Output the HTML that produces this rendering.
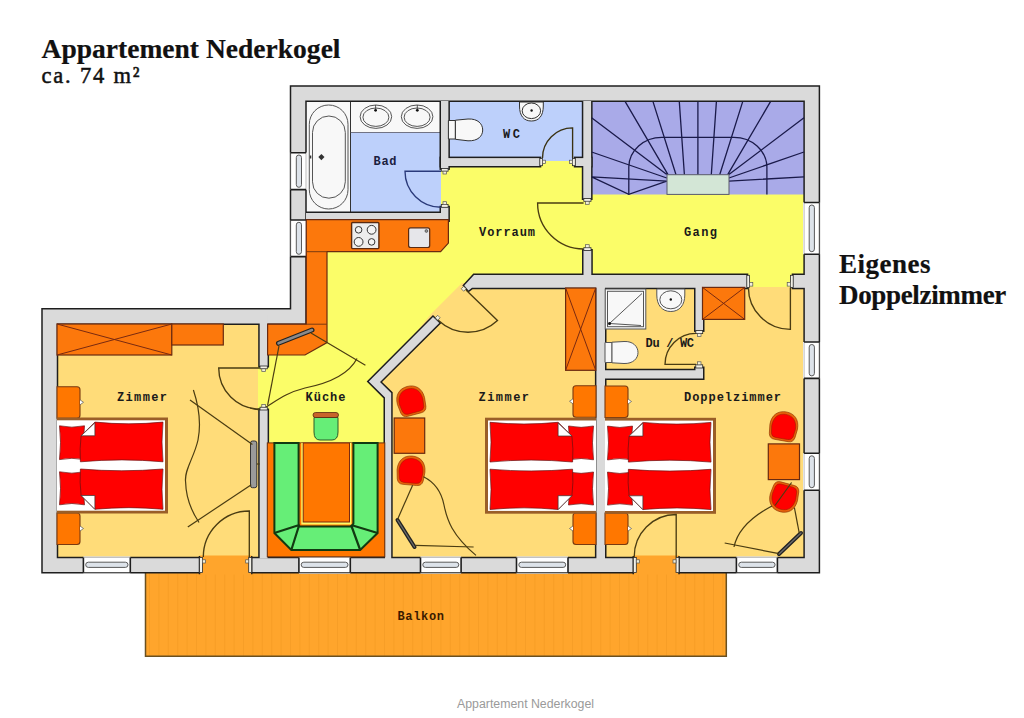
<!DOCTYPE html>
<html><head><meta charset="utf-8">
<style>
html,body{margin:0;padding:0;background:#fff;width:1024px;height:718px;overflow:hidden}
svg{display:block}
.lbl{font-family:"Liberation Mono",monospace;font-weight:bold;font-size:12px;fill:#1a1a1a}
.fur{fill:#FC780C;stroke:#6A2A10;stroke-width:1.2}
.ln{fill:none;stroke:#4a3c12;stroke-width:1.2}
.jb{fill:#F4F0D8;stroke:#555;stroke-width:0.7}
</style></head><body>
<svg width="1024" height="718" viewBox="0 0 1024 718">
<rect width="1024" height="718" fill="#fff"/>
<!-- FLOORS -->
<g id="floors">
  <!-- balcony -->
  <rect x="145.5" y="560" width="580.8" height="96.3" fill="#FFA52C"/>
  <g stroke="#F59C25" stroke-width="1" opacity="0.7">
    <path d="M149.5,573V656M158.9,573V656M168.3,573V656M177.7,573V656M187.1,573V656M196.5,573V656M205.9,573V656M215.3,573V656M224.7,573V656M234.1,573V656M243.5,573V656M252.9,573V656M262.3,573V656M271.7,573V656M281.1,573V656M290.5,573V656M299.9,573V656M309.3,573V656M318.7,573V656M328.1,573V656M337.5,573V656M346.9,573V656M356.3,573V656M365.7,573V656M375.1,573V656M384.5,573V656M393.9,573V656M403.3,573V656M412.7,573V656M422.1,573V656M431.5,573V656M440.9,573V656M450.3,573V656M459.7,573V656M469.1,573V656M478.5,573V656M487.9,573V656M497.3,573V656M506.7,573V656M516.1,573V656M525.5,573V656M534.9,573V656M544.3,573V656M553.7,573V656M563.1,573V656M572.5,573V656M581.9,573V656M591.3,573V656M600.7,573V656M610.1,573V656M619.5,573V656M628.9,573V656M638.3,573V656M647.7,573V656M657.1,573V656M666.5,573V656M675.9,573V656M685.3,573V656M694.7,573V656M704.1,573V656M713.5,573V656M722.9,573V656"/>
  </g>
  <path d="M145.5,573V656.3H726.3V573" fill="none" stroke="#6a5020" stroke-width="1.5"/>
  <!-- yellow region -->
  <polygon points="441,160 591,160 591,194 806,194 806,287 748,287 748,275 474,275 464,286 433,317 380,378 384,395 384,450 267,450 267,324 306,324 306,213 441,213" fill="#FBFD68"/>
  <!-- bad -->
  <rect x="306" y="101" width="44.5" height="112" fill="#F8F8F8"/>
  <rect x="350.5" y="101" width="90.5" height="32" fill="#F8F8F8"/>
  <rect x="350.5" y="132.5" width="90.5" height="80.5" fill="#BDD0FB"/>
  <line x1="350.5" y1="101" x2="350.5" y2="213" stroke="#333" stroke-width="1"/>
  <line x1="350.5" y1="132.5" x2="441" y2="132.5" stroke="#556" stroke-width="0.8"/>
  <!-- wc -->
  <rect x="448" y="101" width="135.5" height="60" fill="#BDD0FB"/>
  <!-- stairs -->
  <rect x="591.5" y="101.5" width="212.5" height="93" fill="#A9AAE8"/>
  <!-- left zimmer -->
  <rect x="57" y="324" width="203" height="236" fill="#FFDC79"/>
  <!-- middle zimmer -->
  <polygon points="462,283 600,283 600,560 388,560 388,395 376,381 431,314" fill="#FFDC79"/>
  <!-- du/wc + doppelzimmer -->
  <rect x="604" y="287" width="200" height="273" fill="#FFDC79"/>
    <!-- kueche lower -->
  <rect x="267" y="440" width="118" height="120" fill="#FBFD68"/>
  <rect x="258" y="365" width="12" height="46" fill="#FBFD68"/>
</g>
<!-- WALLS: stroke pass then fill pass -->
<defs>
<g id="walls">
  <path fill-rule="evenodd" d="M291.25,86.75 H818.65 V571.95 H42.75 V309.55 H291.25 Z M305.25,100.5 V323.55 H56.75 V558.15 H804.85 V100.5 Z"/>
  <rect x="441" y="101" width="7.4" height="67.4"/>
  <polygon points="306,213 441,213 441,207.3 448.4,207.3 448.4,220.4 306,220.4"/>
  <rect x="441" y="158.1" width="98.8" height="7.9"/>
  <rect x="575.3" y="158.1" width="15.8" height="7.9"/>
  <rect x="583.3" y="101" width="7.8" height="97.5"/>
  <rect x="583.5" y="250.5" width="7.8" height="27.5"/>
  <polygon points="474,275 746.8,275 746.8,287.8 472,287.8 468.5,290.5 464.3,285.5"/>
  <rect x="793.2" y="275" width="12.8" height="12.8"/>
  <polygon points="433,317 439.3,323 380,382 391.2,393 391.2,560 385,560 385,397.6 368.8,381.4"/>
  <rect x="596.4" y="285" width="8.6" height="275"/>
  <rect x="695.5" y="285" width="7.5" height="45.4"/>
  <polygon points="604,370.2 695.5,370.2 695.5,368 703,368 703,378.4 604,378.4"/>
  <rect x="259.7" y="315" width="7.9" height="51"/>
  <rect x="259.7" y="410" width="7.9" height="148.5"/>
</g>
</defs>
<use href="#walls" fill="none" stroke="#1E1E1E" stroke-width="3" stroke-linejoin="miter"/>
<use href="#walls" fill="#DADADA" stroke="none"/>
<!-- balcony door openings -->
<rect x="199.5" y="555.5" width="52.2" height="19" fill="#FFA52C"/>
<rect x="633.3" y="555.5" width="45.7" height="19" fill="#FFA52C"/>

<g stroke="#1E1E1E" stroke-width="1.5">
  <path d="M199.5,556V574.3M251.7,556V574.3M633.3,556V574.3M679,556V574.3"/>
</g>
<!-- WINDOWS -->
<g id="windows">
  <g fill="#fff">
    <rect x="289.5" y="152.7" width="17.5" height="36.9"/>
    <rect x="289.5" y="220" width="17.5" height="36.6"/>
    <rect x="803" y="202.5" width="17.5" height="51.7"/>
    <rect x="803" y="342" width="17.5" height="36.4"/>
    <rect x="803" y="453.3" width="17.5" height="36.9"/>
    <rect x="83.4" y="556.4" width="46.9" height="17.3"/>
    <rect x="298.9" y="556.4" width="51.4" height="17.3"/>
    <rect x="420.5" y="556.4" width="40.6" height="17.3"/>
    <rect x="516.5" y="556.4" width="51.5" height="17.3"/>
    <rect x="736.4" y="556.4" width="41" height="17.3"/>
  </g>
  <path d="M290.5,152.7V189.6M290.5,220V256.6M819.4,202.5V254.2M819.4,342V378.4M819.4,453.3V490.2M83.4,572.7H130.3M298.9,572.7H350.3M420.5,572.7H461.1M516.5,572.7H568M736.4,572.7H777.4" stroke="#555" stroke-width="1.2"/>
  <path d="M306,152.7V189.6M306,220V256.6M804.1,202.5V254.2M804.1,342V378.4M804.1,453.3V490.2M83.4,557.4H130.3M298.9,557.4H350.3M420.5,557.4H461.1M516.5,557.4H568M736.4,557.4H777.4" stroke="#aaa" stroke-width="0.8"/>
  <path d="M290.5,152.7H306M290.5,189.6H306M290.5,220H306M290.5,256.6H306M804.1,202.5H819.4M804.1,254.2H819.4M804.1,342H819.4M804.1,378.4H819.4M804.1,453.3H819.4M804.1,490.2H819.4M83.4,557.4V572.7M130.3,557.4V572.7M298.9,557.4V572.7M350.3,557.4V572.7M420.5,557.4V572.7M461.1,557.4V572.7M516.5,557.4V572.7M568,557.4V572.7M736.4,557.4V572.7M777.4,557.4V572.7" stroke="#1E1E1E" stroke-width="1.6"/>
  <g fill="#DDE3EA" stroke="#5a5a5a" stroke-width="1">
    <rect x="296.3" y="155" width="5.2" height="32.3" rx="2.6"/>
    <rect x="296.3" y="222.3" width="5.2" height="32" rx="2.6"/>
    <rect x="809.2" y="205" width="5.2" height="46.7" rx="2.6"/>
    <rect x="809.2" y="344.5" width="5.2" height="31.4" rx="2.6"/>
    <rect x="809.2" y="455.8" width="5.2" height="31.9" rx="2.6"/>
    <rect x="85.7" y="562.2" width="42.3" height="5.2" rx="2.6"/>
    <rect x="301.2" y="562.2" width="46.8" height="5.2" rx="2.6"/>
    <rect x="422.8" y="562.2" width="36" height="5.2" rx="2.6"/>
    <rect x="518.8" y="562.2" width="46.9" height="5.2" rx="2.6"/>
    <rect x="738.7" y="562.2" width="36.4" height="5.2" rx="2.6"/>
  </g>
</g>
<!-- FURNITURE -->
<defs>
  <g id="bed">
    <rect x="0" y="0" width="111" height="96" fill="#9A5E28"/>
    <rect x="0" y="2.8" width="108" height="90.4" fill="#FFFFFF"/>
    <g fill="#FF0000" stroke="#6a1010" stroke-width="0.7">
      <path d="M2.5,8.3Q14.7,11 27.5,8.3Q25.5,25 27.5,42.1Q14.7,39.5 2.5,42.1Q4.5,25 2.5,8.3Z"/>
      <path d="M2.5,54.3Q14.7,57 27.5,54.3Q25.5,71 27.5,87.3Q14.7,84.7 2.5,87.3Q4.5,71 2.5,54.3Z"/>
      <path d="M106,4.6Q72,8 37.9,4.6L24.1,18.3Q22.5,31 23.4,44.3Q65,40.5 106,44.3Q104,24.5 106,4.6Z"/>
      <path d="M106,51.5Q65,55 23.4,51.5Q22.5,65 24.1,78L37.9,91.8Q72,88.5 106,91.8Q104,72 106,51.5Z"/>
    </g>
    <g fill="#FFFFFF" stroke="#333" stroke-width="0.7">
      <path d="M37.9,5.3L24.1,18.3H37.9Z"/>
      <path d="M24.1,78L37.9,91.8V78Z"/>
    </g>
  </g>
  <g id="chair">
    <path d="M-14,0C-14,-10 -8,-15 0,-15C8,-15 14,-10 14,0L13,9Q12,14 7,14L-7,14Q-12,14 -13,9Z" fill="#E8620A" stroke="#8B3000" stroke-width="0.6"/>
    <path d="M-12,1C-12,-8 -7,-12.5 0,-12.5C7,-12.5 12,-8 12,1L11,8.5Q10,12 6,12L-6,12Q-10,12 -11,8.5Z" fill="#FF0000" stroke="#9a1a00" stroke-width="0.5"/>
  </g>
  <g id="stand">
    <path d="M0,0H20Q23,0 23,3V28.5Q23,31.5 20,31.5H0Z" fill="#FF7700" stroke="#7A3A10" stroke-width="1.1"/>
    <path d="M23,13L26.5,15.5L23,18" fill="#fff" stroke="#555" stroke-width="0.7"/>
  </g>
</defs>

<!-- Bad -->
<g fill="#F8F8F8" stroke="#555" stroke-width="1">
  <rect x="309.3" y="105" width="38.7" height="104" rx="19.3"/>
  <rect x="312.5" y="116" width="32.8" height="82.2" rx="16.4"/>
  <ellipse cx="375.9" cy="116.7" rx="15.8" ry="11.7"/>
  <ellipse cx="375.9" cy="117.2" rx="13" ry="9.2"/>
  <ellipse cx="417.1" cy="116.7" rx="15.8" ry="11.7"/>
  <ellipse cx="417.1" cy="117.2" rx="13" ry="9.2"/>
</g>
<path d="M321.4,154L324.5,157.1L321.4,160.2L318.3,157.1Z" fill="#333"/>
<rect x="309.8" y="155.5" width="1.5" height="3" fill="#333"/>
<g fill="#111"><circle cx="375.6" cy="110.3" r="1.4"/><circle cx="417.3" cy="110.3" r="1.4"/></g>
<path d="M375.6,105V109M417.3,105V109" stroke="#333" stroke-width="0.8"/>

<!-- WC -->
<g fill="#F8F8F8" stroke="#333" stroke-width="1">
  <path d="M448.4,120.5H455.4V139H448.4Z"/>
  <path d="M455.4,120.2L468,119C478,118.5 482.7,124 482.7,130C482.7,136 478,141.2 468,140.8L455.4,139.3Z"/>
  <path d="M519.5,102V106C519.5,116 524,121 531.4,121C538.8,121 543.3,116 543.3,106V102Z"/>
  <ellipse cx="531.4" cy="110.8" rx="9.2" ry="7.8"/>
</g>
<circle cx="531.6" cy="110.5" r="1.2" fill="#111"/>

<!-- Du/WC -->
<g fill="#F8F8F8" stroke="#555" stroke-width="1">
  <rect x="605.2" y="289" width="40.6" height="40"/>
  <rect x="607.5" y="291.3" width="36" height="35.4"/>
  <path d="M656.8,289V295C656.8,305 662,311.5 670.8,311.5C679.6,311.5 684.8,305 684.8,295V289Z"/>
  <ellipse cx="670.8" cy="299.8" rx="11" ry="9"/>
  <path d="M605,342.5H612V362.5H605Z"/>
  <path d="M612,342.2L624,341.5C633,341 638,346.5 638,352.5C638,358.5 633,363.8 624,363.5L612,362.8Z"/>
</g>
<path d="M609.5,323.5L642,293.5M609.5,323.5L641,325.5" stroke="#444" stroke-width="0.9"/>
<circle cx="609.5" cy="323.5" r="1.5" fill="#111"/>
<circle cx="670.8" cy="299.5" r="1.2" fill="#111"/>

<!-- Kitchen counter -->
<polygon class="fur" points="306.3,219.7 448.4,219.7 448.4,243.1 440.6,251.7 327,251.7 327,342.6 305,355 267.6,355 267.6,324.2 306.3,324.2"/>
<path d="M306.3,251.7H327M306.3,324.2H327" stroke="#7A3A10" stroke-width="1"/>
<rect x="351.6" y="222.5" width="27.3" height="26.1" fill="#EDEDED" stroke="#5A2A10" stroke-width="1.4" rx="1"/>
<g fill="#F4F4F4" stroke="#333" stroke-width="1">
  <circle cx="358.6" cy="229.8" r="3.3"/><circle cx="371.6" cy="229.8" r="4.4"/>
  <circle cx="358.6" cy="241.9" r="4.4"/><circle cx="371.6" cy="241.9" r="3.3"/>
</g>
<rect x="408.6" y="227.8" width="21.1" height="19.7" rx="2" fill="#E6E6EA" stroke="#5A2A10" stroke-width="1.2"/>
<circle cx="426.4" cy="231" r="1.4" fill="#999" stroke="#333" stroke-width="0.6"/>
<!-- TV on kitchen counter -->
<path d="M278.5,343.3L312,330" stroke="#222" stroke-width="5" stroke-linecap="round"/>
<path d="M278.5,343.3L312,330" stroke="#8a8a8a" stroke-width="2.6" stroke-linecap="round"/>
<g class="ln">
  <path d="M311,333L327,342.6L365.4,365.2"/>
  <path d="M279,346L267.6,405.3"/>
  <path d="M357,358.5C350,372 335,382 305,388C285,393 275,402 263.4,408.7C258,411 253,409 250,408"/>
</g>

<!-- Kueche lower -->
<rect x="267.3" y="442.9" width="117.5" height="113.9" fill="#FF7700" stroke="#6a3010" stroke-width="1"/>
<path d="M274.4,443V533L291.3,550H360.2L377.6,533V443H353.4V523.7L351.1,526.4H299.2L298.6,523.7V443Z" fill="#66EE77" stroke="#123a12" stroke-width="2"/>
<path d="M274.4,533L299.2,525M299.2,525L291.3,550M377.6,533L351.1,525M351.1,525L360.2,550" stroke="#123a12" stroke-width="2.2"/>
<rect x="301.3" y="443" width="50.1" height="81.5" fill="#FFFB66"/>
<rect x="303.2" y="443" width="46.3" height="79" fill="#FF7700" stroke="#7a2a10" stroke-width="1"/>
<path d="M314,417.5H338V432Q338,440 332,440H320Q314,440 314,432Z" fill="#66EE77" stroke="#2a5a2a" stroke-width="1"/>
<rect x="313" y="412.5" width="25.5" height="5" rx="2.5" fill="#C8642A" stroke="#5a2a10" stroke-width="0.8"/>

<!-- Left Zimmer -->
<rect class="fur" x="57" y="324" width="114.8" height="31"/>
<path d="M57,324L171.8,355M57,355L171.8,324" stroke="#7a2a10" stroke-width="1"/>
<rect class="fur" x="171.8" y="324" width="51.5" height="21"/>
<use href="#stand" transform="translate(57,386.8)"/>
<use href="#stand" transform="translate(57,513)"/>
<use href="#bed" transform="translate(57,417.5)"/>
<rect x="250.5" y="441" width="6.3" height="46.7" rx="2" fill="#9a9a9a" stroke="#333" stroke-width="1"/>
<g class="ln">
  <path d="M193.4,390C200,410 201,425 198,440C194,458 184,470 185.6,482C186,500 192,512 199,522.5"/>
  <path d="M190,400L252.4,444.6"/>
  <path d="M251.3,484.7L187.8,527"/>
  <path d="M256.9,464H259.7"/>
</g>

<!-- Middle Zimmer -->
<rect class="fur" x="565.6" y="288" width="30.1" height="82.3"/>
<path d="M565.6,288L595.7,370.3M565.6,370.3L595.7,288" stroke="#7a2a10" stroke-width="1"/>
<use href="#stand" transform="translate(596,385.8) scale(-1,1)"/>
<use href="#stand" transform="translate(596,513) scale(-1,1)"/>
<use href="#bed" transform="translate(596,417.7) scale(-1,1)"/>
<rect class="fur" x="394.2" y="418" width="30.5" height="35.3"/>
<use href="#chair" transform="translate(411,401) rotate(-15)"/>
<use href="#chair" transform="translate(411,471) rotate(5)"/>
<path d="M397.5,520L414.5,547" stroke="#222" stroke-width="4" stroke-linecap="round"/>
<path d="M397.5,520L414.5,547" stroke="#6a6a6a" stroke-width="1.4" stroke-linecap="round"/>
<g class="ln">
  <path d="M412.6,485.2L397.5,519.4"/>
  <path d="M423.5,476.8C436,483 442,495 444,505C447,520 452,535 476,555.4"/>
  <path d="M415.1,545.4L473.6,547"/>
</g>

<!-- Doppelzimmer -->
<rect class="fur" x="702.5" y="287.4" width="42.2" height="32"/>
<path d="M702.5,287.4L744.7,319.4M702.5,319.4L744.7,287.4" stroke="#7a2a10" stroke-width="1"/>
<use href="#stand" transform="translate(605,386)"/>
<use href="#stand" transform="translate(605,513)"/>
<use href="#bed" transform="translate(605,417.8)"/>
<rect class="fur" x="768.3" y="443.9" width="31.2" height="35.7"/>
<use href="#chair" transform="translate(783.7,426.7) rotate(10)"/>
<use href="#chair" transform="translate(783.9,497.2) rotate(195)"/>
<path d="M779,554L801,533" stroke="#222" stroke-width="4" stroke-linecap="round"/>
<path d="M779,554L801,533" stroke="#6a6a6a" stroke-width="1.4" stroke-linecap="round"/>
<g class="ln">
  <path d="M772,506C755,515 738,528 734,547"/>
  <path d="M724.7,543L779,553.6"/>
  <path d="M794.4,507.6L799.3,533.4"/>
  <path d="M775,505.5L791.6,482.5"/>
</g>

<!-- Stairs -->
<g stroke="#1a1a4a" stroke-width="1.3" fill="none">
  <path d="M591.6,117.7L666.8,174.5M625.2,101.6L668,174.7M653,101.6L676,174.7M679.3,101.6L684.4,174.7M697.9,101.6V174.7M591.6,152L666.8,178M591.6,176.8L666.8,181.2M591.6,176.8L628.8,194.4L666.8,181.2"/>
  <path d="M804,117.7L728.9,174.5M770.5,101.6L727.7,174.7M742.7,101.6L719.7,174.7M716.4,101.6L711.3,174.7M804,152L728.9,178M804,176.8L728.9,181.2"/>
  <path d="M628.8,194.4V167A33,30 0 0 1 661.8,137.4H733.9A33,30 0 0 1 766.9,167V194.4"/>
</g>
<rect x="667" y="174.7" width="62" height="19.7" fill="#D3E6D6" stroke="#5a5a6a" stroke-width="1"/>
<!-- DOORS -->
<g id="doors" fill="none" stroke-width="1.35">
  <path d="M441,171.2H405A36,36 0 0 0 441,207.2" stroke="#2A3A7A"/>
  <path d="M572.6,158V127.9A30.1,30.1 0 0 0 542.5,158" stroke="#3a3212"/>
  <path d="M583.6,203H537.6A46,46 0 0 0 583.6,249" stroke="#4a3c12"/>
  <path d="M466,290L497.5,320.5A43,43 0 0 1 438.5,320.5" stroke="#4a3c12"/>
  <path d="M790.4,287.4V329.4A42,42 0 0 1 748.4,287.4" stroke="#4a3c12"/>
  <path d="M696,364.4H665A31,31 0 0 1 696,333.4" stroke="#4a3c12"/>
  <path d="M259.7,368H218.7A41,41 0 0 0 259.7,409" stroke="#4a3c12"/>
  <path d="M249.3,557V511A46,46 0 0 0 203.3,557" stroke="#4a3c12"/>
  <path d="M676.2,557V514.5A42,42 0 0 0 634.2,557" stroke="#4a3c12"/>
</g>
<!-- jambs -->
<g fill="#F2F0E6" stroke="#2a2a2a" stroke-width="0.8">
  <rect x="441.3" y="168.4" width="6.8" height="2.8"/><rect x="441.3" y="204.5" width="6.8" height="2.8"/>
  <rect x="539.8" y="158.4" width="2.8" height="7.3"/><rect x="572.5" y="158.4" width="2.8" height="7.3"/>
  <rect x="583.8" y="198.5" width="7.2" height="2.8"/><rect x="583.8" y="247.7" width="7.2" height="2.8"/>
  <rect x="746.8" y="275.3" width="2.8" height="12.2"/><rect x="790.4" y="275.3" width="2.8" height="12.2"/>
  <rect x="695.8" y="330.4" width="6.9" height="3.2"/><rect x="695.8" y="364.8" width="6.9" height="3.2"/>
  <rect x="260" y="366" width="7.3" height="2.8"/><rect x="260" y="407.2" width="7.3" height="2.8"/>
  <rect x="199.5" y="557.6" width="3" height="15"/><rect x="248.7" y="557.6" width="3" height="15"/>
  <rect x="633.3" y="557.6" width="3" height="15"/><rect x="676" y="557.6" width="3" height="15"/>
</g>
<g class="jb">
  <rect x="443" y="171.2" width="3.4" height="2.8"/><rect x="443" y="201.7" width="3.4" height="2.8"/>
  <rect x="542.6" y="160.2" width="3" height="3.4"/><rect x="569.5" y="160.2" width="3" height="3.4"/>
  <rect x="585.6" y="201.3" width="3.6" height="3"/><rect x="585.6" y="244.7" width="3.6" height="3"/>
  <rect x="749.6" y="282.5" width="3.2" height="3.6"/><rect x="787.2" y="282.5" width="3.2" height="3.6"/>
  <rect x="697.5" y="333.6" width="3.5" height="3"/><rect x="697.5" y="361.8" width="3.5" height="3"/>
  <rect x="261.8" y="368.8" width="3.6" height="2.8"/><rect x="261.8" y="404.4" width="3.6" height="2.8"/>
  <rect x="202.5" y="559.8" width="3" height="3.2"/><rect x="245.7" y="559.8" width="3" height="3.2"/>
  <rect x="636.3" y="559.8" width="3" height="3.2"/><rect x="673" y="559.8" width="3" height="3.2"/>
  <rect x="462" y="287" width="3.5" height="3.5" transform="rotate(45 463.7 288.7)"/>
  <rect x="436" y="316" width="3.5" height="3.5" transform="rotate(45 437.7 317.7)"/>
</g>
<!-- TITLE -->
<text x="41.5" y="58.2" font-family="Liberation Serif" font-weight="bold" font-size="27.5" fill="#111" stroke="#111" stroke-width="0.2" textLength="299" lengthAdjust="spacing">Appartement Nederkogel</text>
<text x="41.5" y="82.8" font-family="Liberation Serif" font-size="22.5" fill="#111" stroke="#111" stroke-width="0.5" textLength="98" lengthAdjust="spacing">ca. 74 m²</text>
<text x="839" y="273" font-family="Liberation Serif" font-weight="bold" font-size="27" fill="#111" stroke="#111" stroke-width="0.2" textLength="91.5" lengthAdjust="spacing">Eigenes</text>
<text x="839" y="303.7" font-family="Liberation Serif" font-weight="bold" font-size="27" fill="#111" stroke="#111" stroke-width="0.2" textLength="167.3" lengthAdjust="spacing">Doppelzimmer</text>
<text x="457" y="708" font-family="Liberation Sans" font-size="12" fill="#9a9a9a" textLength="137" lengthAdjust="spacingAndGlyphs">Appartement Nederkogel</text>

<!-- LABELS -->
<text class="lbl" x="373.5" y="164.8" style="fill:#1a2040" textLength="23">Bad</text>
<text class="lbl" x="503" y="137.9" textLength="17">WC</text>
<text class="lbl" x="479" y="235.6" textLength="56">Vorraum</text>
<text class="lbl" x="684" y="235.6" textLength="33">Gang</text>
<text class="lbl" x="117" y="400.7" textLength="50">Zimmer</text>
<text class="lbl" x="305.5" y="400.7" textLength="40">Küche</text>
<text class="lbl" x="478.5" y="400.6" textLength="50.5">Zimmer</text>
<text class="lbl" x="645.5" y="346.8" textLength="48.5">Du / WC</text>
<text class="lbl" x="684" y="400.6" textLength="97">Doppelzimmer</text>
<text class="lbl" x="397.5" y="619.5" style="fill:#3a1a00" textLength="46.5">Balkon</text>
</svg>
</body></html>
